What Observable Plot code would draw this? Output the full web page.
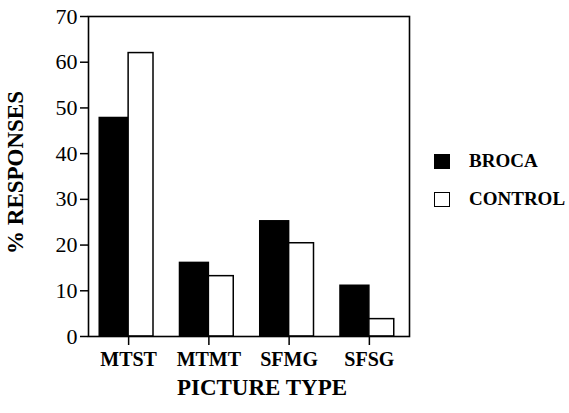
<!DOCTYPE html>
<html>
<head>
<meta charset="utf-8">
<script src="https://cdn.jsdelivr.net/npm/d3@7"></script>
<script src="https://cdn.jsdelivr.net/npm/@observablehq/plot@0.6"></script>
<style>
  html, body { margin: 0; padding: 0; background: #fff; }
  #wrap { position: relative; width: 569px; height: 413px; font-family: "Liberation Serif", "Times New Roman", serif; }
  .leg { position: absolute; left: 434px; display: flex; align-items: center; font-weight: bold; font-size: 19px; color: #000; }
  .sw { width: 16px; height: 15px; border: 1.5px solid #000; box-sizing: border-box; margin-right: 19px; }
</style>
</head>
<body>
<div id="wrap"></div>
<script>
const categories = ["MTST", "MTMT", "SFMG", "SFSG"];
const series = ["BROCA", "CONTROL"];
const broca = [47.8, 16.1, 25.2, 11.1];
const control = [62.0, 13.2, 20.4, 3.8];
const yTicks = [0, 10, 20, 30, 40, 50, 60, 70];
const colors = {BROCA: "#000", CONTROL: "#fff"};
// bar extent within each category slot (black left of tick, white right of tick)
const barSpan = {BROCA: [-0.36, 0], CONTROL: [0, 0.31]};

const data = [];
categories.forEach((c, i) => {
  data.push({cat: c, i, series: "BROCA", value: broca[i]});
  data.push({cat: c, i, series: "CONTROL", value: control[i]});
});

const chart = Plot.plot({
  width: 569,
  height: 413,
  marginLeft: 88,
  marginRight: 160,
  marginTop: 16,
  marginBottom: 77,
  style: {fontFamily: "'Liberation Serif', 'Times New Roman', serif", background: "#fff", color: "#000"},
  x: {domain: [-0.5, 3.5], axis: null},
  y: {domain: [0, 70], axis: null},
  marks: [
    Plot.rectY(data, {
      x1: d => d.i + barSpan[d.series][0],
      x2: d => d.i + barSpan[d.series][1],
      y: "value",
      fill: d => colors[d.series],
      stroke: "#000",
      strokeWidth: 1.5
    }),
    Plot.frame({stroke: "#000", strokeWidth: 1.6}),
    Plot.axisY({ticks: yTicks, tickSize: 8, tickPadding: 3, fontSize: 22, strokeWidth: 1.5, label: null}),
    Plot.axisX({ticks: [0, 1, 2, 3], tickFormat: i => categories[i], tickSize: 9, tickPadding: 6, fontSize: 20, fontWeight: "bold", strokeWidth: 1.5, label: null}),
    Plot.text(["PICTURE TYPE"], {frameAnchor: "bottom", dx: 13, dy: 51, fontSize: 23, fontWeight: "bold", textAnchor: "middle", lineAnchor: "middle"}),
    Plot.text(["% RESPONSES"], {frameAnchor: "left", dx: -73, dy: -4, rotate: -90, fontSize: 23, fontWeight: "bold", textAnchor: "middle", lineAnchor: "middle"})
  ]
});
const wrap = document.getElementById("wrap");
wrap.appendChild(chart);

const positions = [152, 190];
series.forEach((s, k) => {
  const row = document.createElement("div");
  row.className = "leg";
  row.style.top = (positions[k] - 2) + "px";
  const sw = document.createElement("div");
  sw.className = "sw";
  sw.style.background = colors[s];
  row.appendChild(sw);
  const t = document.createElement("span");
  t.textContent = s;
  row.appendChild(t);
  wrap.appendChild(row);
});
</script>
</body>
</html>
